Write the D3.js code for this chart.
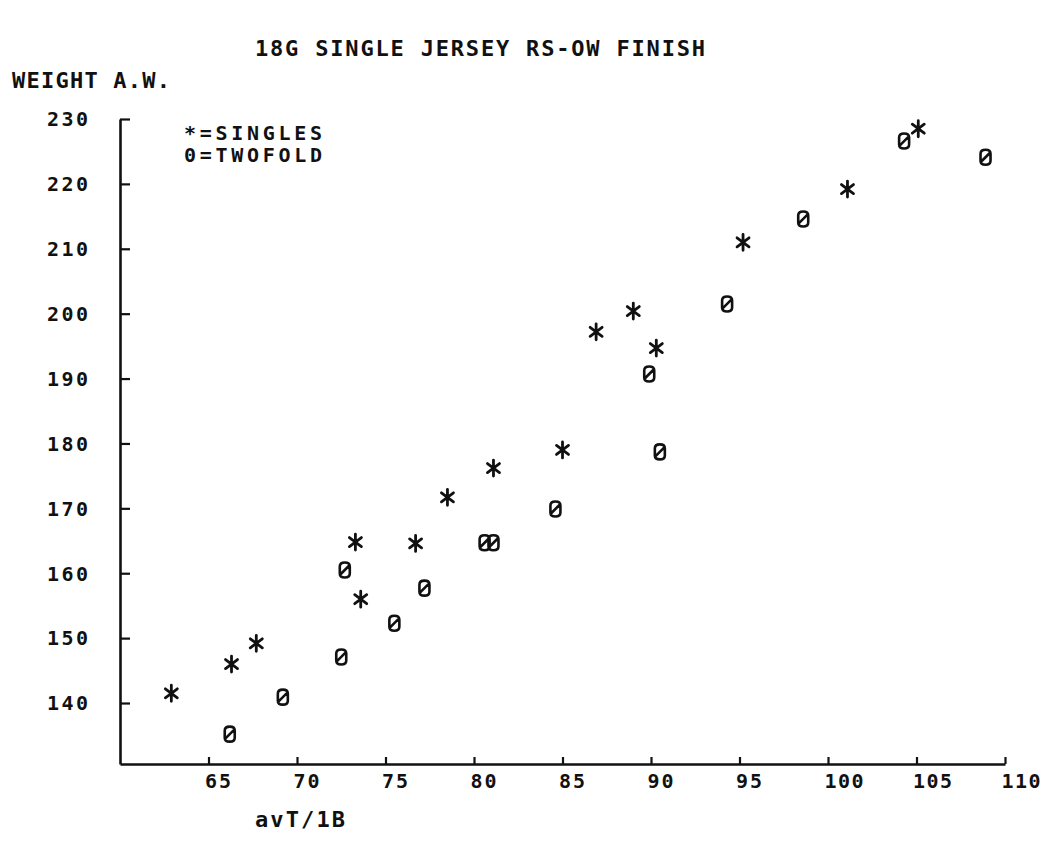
<!DOCTYPE html>
<html>
<head>
<meta charset="utf-8">
<script src="https://cdn.jsdelivr.net/npm/d3@7"></script>
<style>
  body { margin: 0; background: #fff; }
  svg text { font-family: "DejaVu Sans Mono", monospace; font-weight: bold; fill: #111; }
</style>
</head>
<body>
<svg id="chart" width="1058" height="843"></svg>
<script>
// singles (*) and twofold (0) readings
const singlesX = [62.9, 66.3, 67.7, 73.3, 73.6, 76.7, 78.5, 81.1, 85.0, 86.9, 89.0, 90.3, 95.2, 101.1, 105.1];
const singlesY = [141.5, 146.0, 149.2, 164.8, 156.0, 164.6, 171.7, 176.2, 179.0, 197.2, 200.4, 194.7, 211.0, 219.2, 228.5];
const twofoldX = [66.2, 69.2, 72.5, 72.7, 75.5, 77.2, 80.6, 81.1, 84.6, 89.9, 90.5, 94.3, 98.6, 104.3, 108.9];
const twofoldY = [135.2, 140.9, 147.1, 160.5, 152.3, 157.7, 164.7, 164.7, 169.9, 190.7, 178.7, 201.5, 214.6, 226.6, 224.1];

const xTicks = [65, 70, 75, 80, 85, 90, 95, 100, 105, 110];
const yTicks = [140, 150, 160, 170, 180, 190, 200, 210, 220, 230];

const title = '18G SINGLE JERSEY RS-OW FINISH';
const yTitle = 'WEIGHT A.W.';
const xTitle = 'avT/1B';
const legendLines = ['*=SINGLES', '0=TWOFOLD'];

const svg = d3.select('#chart');
const ink = '#111';

const x = d3.scaleLinear().domain([60, 110]).range([120, 1005]);
const y = d3.scaleLinear().domain([130.6, 230]).range([764, 119]);

// x axis, ticks pointing up into the plot
const xAxis = svg.append('g')
    .attr('transform', 'translate(0,764)')
    .call(d3.axisBottom(x).tickValues(xTicks).tickSize(-7).tickSizeOuter(0).tickPadding(9));
xAxis.select('.domain').attr('stroke', ink).attr('stroke-width', 2.6);
xAxis.selectAll('.tick line').attr('stroke', ink).attr('stroke-width', 2.2);
xAxis.selectAll('.tick text')
    .attr('text-anchor', 'start')
    .attr('x', -4)
    .attr('dy', '0.74em')
    .attr('font-size', 20)
    .attr('font-family', '"DejaVu Sans Mono", monospace')
    .attr('textLength', d => String(d).length * 13)
    .attr('lengthAdjust', 'spacing')
    .attr('fill', ink);

// y axis, ticks pointing right
const yAxis = svg.append('g')
    .attr('transform', 'translate(120,0)')
    .call(d3.axisLeft(y).tickValues(yTicks).tickSize(-10).tickSizeOuter(0));
yAxis.select('.domain').attr('stroke', ink).attr('stroke-width', 2.6);
yAxis.selectAll('.tick line').attr('stroke', ink).attr('stroke-width', 2.2);
yAxis.selectAll('.tick text')
    .attr('text-anchor', 'start')
    .attr('x', -73)
    .attr('dy', '0.34em')
    .attr('font-size', 20)
    .attr('font-family', '"DejaVu Sans Mono", monospace')
    .attr('textLength', 41)
    .attr('lengthAdjust', 'spacing')
    .attr('fill', ink);

// titles
svg.append('text').attr('x', 255).attr('y', 56).attr('font-size', 22)
    .attr('textLength', 450).attr('lengthAdjust', 'spacing').text(title);
svg.append('text').attr('x', 12).attr('y', 88).attr('font-size', 22)
    .attr('textLength', 158).attr('lengthAdjust', 'spacing').text(yTitle);
svg.append('text').attr('x', 255).attr('y', 827).attr('font-size', 22)
    .attr('textLength', 90).attr('lengthAdjust', 'spacing').text(xTitle);

// legend
svg.selectAll('.legend').data(legendLines).enter().append('text')
    .attr('class', 'legend')
    .attr('x', 184)
    .attr('y', (d, i) => 140 + i * 22)
    .attr('font-size', 20)
    .attr('textLength', 138)
    .attr('lengthAdjust', 'spacing')
    .text(d => d);

// plotter style glyphs
const starPath = 'M0,-8V8M-6,-4.5L6,4.5M-6,4.5L6,-4.5';
const zeroPath = 'M-5,-3.5Q-5,-7.5 0,-7.5Q5,-7.5 5,-3.5V3.5Q5,7.5 0,7.5Q-5,7.5 -5,3.5Z M-4.5,4.5L4.5,-4.5';

const singles = singlesX.map((v, i) => ({ x: v, y: singlesY[i] }));
const twofold = twofoldX.map((v, i) => ({ x: v, y: twofoldY[i] }));

svg.append('g').selectAll('path').data(singles).enter().append('path')
    .attr('transform', d => `translate(${x(d.x)},${y(d.y)})`)
    .attr('d', starPath)
    .attr('fill', 'none')
    .attr('stroke', ink)
    .attr('stroke-width', 2.8)
    .attr('stroke-linecap', 'round');

svg.append('g').selectAll('path').data(twofold).enter().append('path')
    .attr('transform', d => `translate(${x(d.x)},${y(d.y)})`)
    .attr('d', zeroPath)
    .attr('fill', 'none')
    .attr('stroke', ink)
    .attr('stroke-width', 2.6)
    .attr('stroke-linecap', 'round');
</script>
</body>
</html>
